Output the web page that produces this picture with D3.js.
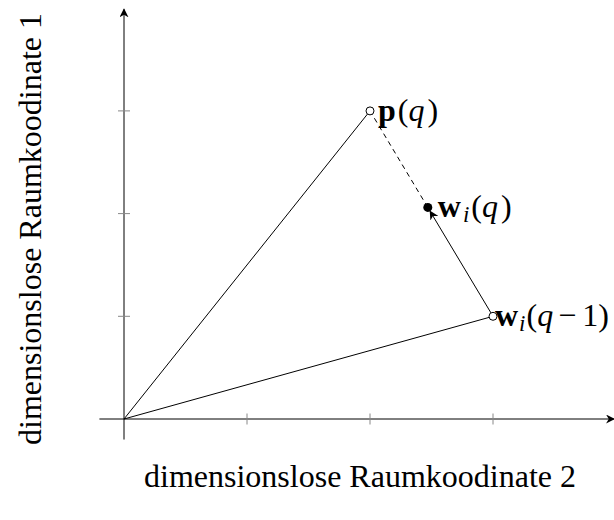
<!DOCTYPE html>
<html>
<head>
<meta charset="utf-8">
<script src="https://cdn.jsdelivr.net/npm/d3@7"></script>
<style>
  body { margin: 0; background: #fff; }
  text { font-family: "Liberation Serif", "DejaVu Serif", serif; }
</style>
</head>
<body>
<div id="container"></div>
<script>
// ticks on both axes
const xTicks = [1, 2, 3];
const yTicks = [1, 2, 3];

// points (dimensionless coords)
const origin = [0, 0];
const pQ = [2, 3];
const wPrev = [3, 1];
const wNext = [2.47, 2.06];

const xLabel = "dimensionslose Raumkoodinate 2";
const yLabel = "dimensionslose Raumkoodinate 1";

var W = 614, H = 520;

var x = d3.scaleLinear().domain([0, 4]).range([124, 616]);
var y = d3.scaleLinear().domain([0, 4]).range([419, 8.2]);

var svg = d3.select("#container").append("svg")
  .attr("width", W).attr("height", H);

var defs = svg.append("defs");
// stealth-ish arrowhead
["axisArrow", "vecArrow"].forEach(function (id) {
  defs.append("marker")
    .attr("id", id)
    .attr("viewBox", "0 0 10 10")
    .attr("refX", 9).attr("refY", 5)
    .attr("markerWidth", 9).attr("markerHeight", 9)
    .attr("markerUnits", "userSpaceOnUse")
    .attr("orient", "auto")
    .append("path")
    .attr("d", "M0,0 L10,5 L0,10 L3,5 Z")
    .attr("fill", "#000");
});

// axes
svg.append("line")
  .attr("x1", x(-0.2)).attr("x2", x(3.985))
  .attr("y1", y(0)).attr("y2", y(0))
  .attr("stroke", "#000").attr("stroke-width", 1)
  .attr("marker-end", "url(#axisArrow)");

svg.append("line")
  .attr("x1", x(0)).attr("x2", x(0))
  .attr("y1", y(-0.2)).attr("y2", y(3.99))
  .attr("stroke", "#000").attr("stroke-width", 1)
  .attr("marker-end", "url(#axisArrow)");

// tick marks crossing the axes
svg.append("g").selectAll("line")
  .data(xTicks).enter().append("line")
  .attr("x1", d => x(d)).attr("x2", d => x(d))
  .attr("y1", y(0) - 5.5).attr("y2", y(0) + 5.5)
  .attr("stroke", "#888").attr("stroke-width", 1);

svg.append("g").selectAll("line")
  .data(yTicks).enter().append("line")
  .attr("x1", x(0) - 6).attr("x2", x(0) + 6)
  .attr("y1", d => y(d)).attr("y2", d => y(d))
  .attr("stroke", "#888").attr("stroke-width", 1);

// solid vectors from origin
svg.append("g").selectAll("line")
  .data([pQ, wPrev]).enter().append("line")
  .attr("x1", x(origin[0])).attr("y1", y(origin[1]))
  .attr("x2", d => x(d[0])).attr("y2", d => y(d[1]))
  .attr("stroke", "#000").attr("stroke-width", 1);

// dashed from w(q) to p(q)
svg.append("line")
  .attr("x1", x(wNext[0])).attr("y1", y(wNext[1]))
  .attr("x2", x(pQ[0])).attr("y2", y(pQ[1]))
  .attr("stroke", "#000").attr("stroke-width", 1)
  .attr("stroke-dasharray", "5,4");

// update arrow w(q-1) -> w(q), stop at dot edge
var ax = x(wNext[0]) - x(wPrev[0]), ay = y(wNext[1]) - y(wPrev[1]);
var len = Math.sqrt(ax * ax + ay * ay);
var cut = 4.5;
svg.append("line")
  .attr("x1", x(wPrev[0])).attr("y1", y(wPrev[1]))
  .attr("x2", x(wNext[0]) - ax / len * cut).attr("y2", y(wNext[1]) - ay / len * cut)
  .attr("stroke", "#000").attr("stroke-width", 1)
  .attr("marker-end", "url(#vecArrow)");

// points
svg.append("g").selectAll("circle")
  .data([pQ, wPrev]).enter().append("circle")
  .attr("cx", d => x(d[0])).attr("cy", d => y(d[1]))
  .attr("r", 4)
  .attr("fill", "#fff").attr("stroke", "#000").attr("stroke-width", 1);

svg.append("circle")
  .attr("cx", x(wNext[0])).attr("cy", y(wNext[1]))
  .attr("r", 4.5).attr("fill", "#000");

// point labels
function label(pt, dx, parts) {
  var t = svg.append("text")
    .attr("x", x(pt[0]) + dx).attr("y", y(pt[1]))
    .attr("dy", "0.3em")
    .attr("font-size", 32);
  parts.forEach(function (p) {
    var s = t.append("tspan").text(p.t);
    if (p.b) s.attr("font-weight", "bold");
    if (p.i) s.attr("font-style", "italic");
    if (p.sub) s.attr("font-size", 23).attr("dy", "0.22em");
    if (p.up) s.attr("dy", "-0.158em");
    if (p.dx) s.attr("dx", p.dx);
  });
}

label(pQ, 8, [{t: "p", b: 1}, {t: "(", dx: 2}, {t: "q", i: 1}, {t: ")", dx: 3}]);
label(wNext, 10, [{t: "w", b: 1}, {t: "i", i: 1, sub: 1, dx: 2}, {t: "(", up: 1, dx: 2}, {t: "q", i: 1}, {t: ")", dx: 3}]);
label(wPrev, 2, [{t: "w", b: 1}, {t: "i", i: 1, sub: 1, dx: 1}, {t: "(", up: 1, dx: 1}, {t: "q", i: 1}, {t: "\u2212", dx: 5}, {t: "1", dx: 6}, {t: ")"}]);

// axis titles
svg.append("text")
  .attr("x", 360).attr("y", 487)
  .attr("text-anchor", "middle")
  .attr("font-size", 32)
  .text(xLabel);

svg.append("text")
  .attr("transform", "translate(41,229) rotate(-90)")
  .attr("text-anchor", "middle")
  .attr("font-size", 32)
  .text(yLabel);
</script>
</body>
</html>
